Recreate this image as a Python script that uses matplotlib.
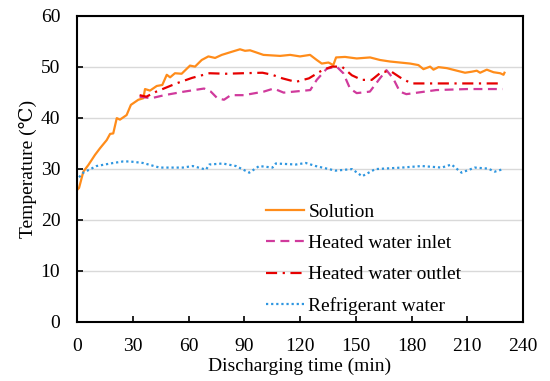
import matplotlib
matplotlib.use("Agg")
import matplotlib.pyplot as plt

# Valeurs (temps en min, température en °C)
t_solution = [0, 1.1, 3.4, 6.1, 9.7, 12.4, 16, 17.8, 19.5, 21.4, 23.1, 26.7, 29, 33,
              35.7, 36.6, 39.3, 42.9, 45.9, 48.3, 50.1, 52.7, 56.3, 60.8, 63.5, 67.1,
              70.7, 74.3, 77.9, 83.2, 87.7, 90.4, 93.1, 100.3, 109.3, 114.7, 120, 125.4,
              129, 131.7, 135.3, 137.9, 139.4, 144.2, 150.5, 157.7, 163, 168.4, 173.8,
              179.2, 183.7, 186.4, 190, 191.8, 194.5, 199, 204.4, 208.8, 212.4, 215.1,
              216.9, 220.5, 224.1, 227.7, 229.5, 230]
T_solution = [25.8, 26.2, 29.4, 30.7, 32.7, 34.0, 35.6, 36.8, 36.9, 39.9, 39.6, 40.5,
              42.5, 43.5, 43.8, 45.6, 45.3, 46.2, 46.4, 48.4, 47.9, 48.7, 48.6, 50.2,
              50.0, 51.3, 52.0, 51.7, 52.3, 52.9, 53.4, 53.1, 53.2, 52.3, 52.1, 52.3,
              52.0, 52.3, 51.3, 50.6, 50.8, 50.3, 51.8, 51.9, 51.6, 51.8, 51.3, 51.0,
              50.8, 50.6, 50.3, 49.5, 50.0, 49.4, 49.9, 49.7, 49.2, 48.8, 49.0, 49.2,
              48.8, 49.4, 48.9, 48.7, 48.4, 48.8]

t_inlet = [33.7, 40, 47, 57.7, 68.4, 72, 75.5, 79.1, 82.7, 89.8, 100.5, 105.8, 111.2,
           125.5, 129, 134.4, 139.7, 143.3, 146.9, 150.5, 157.6, 163, 166.5, 170.1,
           173.7, 177.2, 193.3, 210, 229]
T_inlet = [44.1, 43.8, 44.4, 45.1, 45.7, 45.1, 43.8, 43.5, 44.4, 44.4, 45.1, 45.7, 44.9,
           45.4, 47.4, 49.6, 50.0, 48.7, 45.7, 44.8, 45.1, 47.7, 49.3, 47.7, 45.1, 44.6,
           45.4, 45.6, 45.6]

t_outlet = [33.7, 37.3, 42.7, 53.4, 62, 71.3, 80, 89.1, 99.8, 105, 110.5, 117.7, 124.8,
            132, 137.1, 142.5, 147.9, 153.2, 158.6, 164, 169.2, 174.6, 180, 192.5, 210,
            228.2]
T_outlet = [44.4, 44.1, 45.1, 46.7, 47.8, 48.7, 48.6, 48.7, 48.8, 48.4, 47.7, 47.0, 47.7,
            49.3, 50.0, 50.0, 48.3, 47.4, 47.4, 49.0, 49.0, 47.7, 46.7, 46.7, 46.7, 46.7]

t_refrig = [1.1, 3.4, 10.5, 19.5, 24.8, 28.4, 35.5, 44.4, 56.9, 62.3, 69.4, 71.2, 78.4,
            85.5, 92.7, 98, 105.2, 107, 117.7, 123.1, 128.4, 139.1, 148, 153.4, 160.5,
            174.8, 185.5, 196.2, 201.5, 206.9, 214, 221.2, 224.8, 228.4]
T_refrig = [28.3, 29.2, 30.5, 31.1, 31.4, 31.4, 31.1, 30.2, 30.2, 30.5, 29.8, 30.8, 31.0,
            30.5, 29.2, 30.5, 30.2, 31.0, 30.8, 31.1, 30.5, 29.6, 29.9, 28.5, 29.9, 30.2,
            30.5, 30.2, 30.8, 29.2, 30.2, 30.0, 29.4, 29.8]

x_ticks = list(range(0, 241, 30))
y_ticks = list(range(0, 61, 10))

plt.rcParams['font.family'] = ['Liberation Serif', 'DejaVu Serif']
plt.rcParams['font.size'] = 14

fig = plt.figure(figsize=(5.5, 3.81), dpi=100)
ax = fig.add_axes([0.14, 0.156, 0.811, 0.803])

ax.plot(t_solution, T_solution, color='#ff8c1a', lw=1.6, label='Solution')
ax.plot(t_inlet, T_inlet, color='#d03a9c', lw=1.6, ls=(0, (4, 2.5)), label='Heated water inlet')
ax.plot(t_outlet, T_outlet, color='#e60000', lw=1.6, ls=(0, (5, 2.5, 1, 2.5)), label='Heated water outlet')
ax.plot(t_refrig, T_refrig, color='#2e96e0', lw=1.6, ls=(0, (1, 1.3)), label='Refrigerant water')

ax.set_xlim(0, 240)
ax.set_ylim(0, 60)
ax.set_xticks(x_ticks)
ax.set_yticks(y_ticks)
ax.grid(axis='y', color='#d9d9d9', lw=1)
ax.set_axisbelow(True)
for s in ax.spines.values():
    s.set_linewidth(1.5)
ax.tick_params(direction='in', length=4, width=1.2)
ax.tick_params(axis='y', pad=12)
ax.tick_params(axis='x', pad=12)

ax.set_xlabel('Discharging time (min)', labelpad=2)
ax.set_ylabel('Temperature (℃)', labelpad=3)

ax.legend(loc='lower left', bbox_to_anchor=(0.401, -0.01), frameon=False,
          handlelength=2.0, handletextpad=0.2, labelspacing=0.7, borderaxespad=0.1)

plt.savefig('out.png', dpi=100)
